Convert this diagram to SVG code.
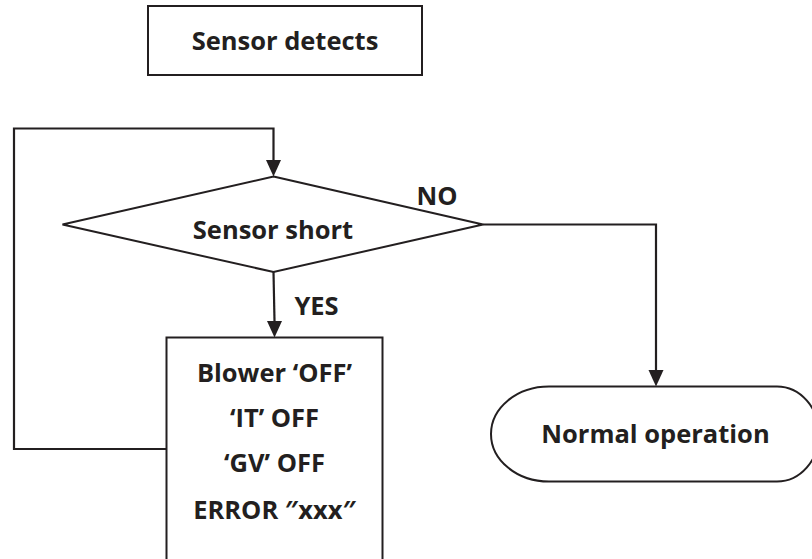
<svg xmlns="http://www.w3.org/2000/svg" width="812" height="559" viewBox="0 0 812 559">
<defs>
<style>
.shape{fill:#fff;stroke:#231f20;stroke-width:2}
.line{fill:none;stroke:#231f20;stroke-width:2.2}
.head{fill:#231f20}
.t{font-family:"Open Sans","Noto Sans","Liberation Sans",sans-serif;font-weight:700;font-size:25.5px;fill:#231f20;text-anchor:middle}
</style>
</defs>
<rect width="812" height="559" fill="#fff"/>
<g id="connectors">
<path class="line" d="M166.5 449 H14 V128.5 H273.5 V160"/>
<path class="line" d="M483 224.5 H656 V370"/>
<path class="line" d="M273.5 272 L274.5 321"/>
<polygon class="head" points="266,160 281,160 273.5,176.5"/>
<polygon class="head" points="648.5,370 663.5,370 656,386.5"/>
<polygon class="head" points="267,321 282,321 274.5,337.5"/>
<text class="t" x="437" y="205">NO</text>
<text class="t" x="316.5" y="315">YES</text>
</g>
<g id="sensor-detects">
<rect class="shape" x="148" y="6" width="274" height="69"/>
<text class="t" x="285" y="50">Sensor detects</text>
</g>
<g id="sensor-short">
<polygon class="shape" points="273.5,176.5 483,224.5 273.5,272 62.5,224.5"/>
<text class="t" x="273" y="239">Sensor short</text>
</g>
<g id="error-actions">
<rect class="shape" x="166.5" y="337.5" width="216" height="240"/>
<text class="t" x="274.5" y="382">Blower ‘OFF’</text>
<text class="t" x="274.5" y="427">‘IT’ OFF</text>
<text class="t" x="274.5" y="472">‘GV’ OFF</text>
<text class="t" x="274.5" y="519">ERROR ″xxx″</text>
</g>
<g id="normal-operation">
<path class="shape" d="M549 386.5 H777 A42 47.5 0 0 1 777 481.5 H549 A58 47.5 0 0 1 549 386.5 Z"/>
<text class="t" x="655.5" y="443">Normal operation</text>
</g>
</svg>
